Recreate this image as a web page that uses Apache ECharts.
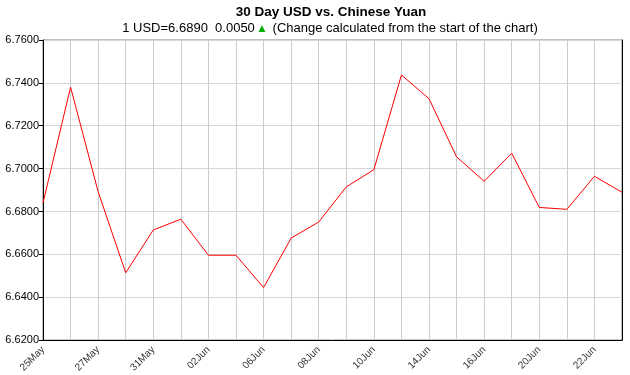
<!DOCTYPE html>
<html><head><meta charset="utf-8">
<script src="https://cdn.jsdelivr.net/npm/echarts@6/dist/echarts.min.js"></script>
<style>html,body{margin:0;padding:0;background:#fff}#c{width:630px;height:375px}</style>
</head><body><div id="c"></div>
<script>
const categories = ["25May","26May","27May","30May","31May","01Jun","02Jun","03Jun","06Jun","07Jun","08Jun","09Jun","10Jun","13Jun","14Jun","15Jun","16Jun","17Jun","20Jun","21Jun","22Jun","23Jun"];
const rates = [6.6840,6.7380,6.6892,6.6514,6.6714,6.6764,6.6596,6.6596,6.6445,6.6676,6.6751,6.6915,6.6995,6.7437,6.7326,6.7055,6.6941,6.7072,6.6819,6.6810,6.6964,6.6890];
const yMin = 6.62, yMax = 6.76, yStep = 0.02;
const titleText = "30 Day USD vs. Chinese Yuan";
const subParts = ["1 USD=6.6890  0.0050 ", "▲", "  (Change calculated from the start of the chart)"];

const chart = echarts.init(document.getElementById('c'), null, {renderer:'canvas'});
chart.setOption({
  animation:false,
  backgroundColor:'#fff',
  title:[{
    text:titleText, left:326, top:0, textAlign:'center',
    textStyle:{fontFamily:'Liberation Sans, Arial, sans-serif', fontSize:13.5, fontWeight:'bold', color:'#000'}
  },{
    text:'{a|'+subParts[0]+'}{g|'+subParts[1]+'}{a|'+subParts[2]+'}', left:325, top:17, textAlign:'center',
    textStyle:{fontWeight:'normal', rich:{
      a:{fontFamily:'Liberation Sans, Arial, sans-serif', fontSize:13, fontWeight:'normal', color:'#000'},
      g:{fontFamily:'DejaVu Sans, sans-serif', fontSize:9, fontWeight:'normal', color:'#00b000'}
    }}
  }],
  grid:{left:43, right:8, top:40, bottom:32, show:true, borderColor:'#808080', borderWidth:1},
  xAxis:{
    type:'category', data:categories, boundaryGap:false,
    axisLine:{lineStyle:{color:'#000', width:1}},
    axisTick:{show:false},
    axisLabel:{interval:1, rotate:45, fontSize:10, color:'#333', fontFamily:'Liberation Sans, Arial, sans-serif', margin:8},
    splitLine:{show:true, interval:0, lineStyle:{color:'#cccccc', width:1}}
  },
  yAxis:[{
    type:'value', min:yMin, max:yMax, interval:yStep, position:'left',
    axisLine:{show:true, lineStyle:{color:'#000'}},
    axisTick:{show:true, length:4, lineStyle:{color:'#000'}},
    axisLabel:{formatter:v=>v.toFixed(4), fontSize:11, color:'#000', fontFamily:'Liberation Sans, Arial, sans-serif', margin:4},
    splitLine:{show:true, lineStyle:{color:'#d6d6d6', width:1}}
  },{
    type:'value', min:yMin, max:yMax, interval:yStep, position:'right',
    axisLine:{show:true, lineStyle:{color:'#000'}},
    axisTick:{show:false}, axisLabel:{show:false}, splitLine:{show:false}
  }],
  series:[{
    type:'line', data:rates, showSymbol:false, symbol:'none',
    lineStyle:{color:'#ff0000', width:1}
  }]
});
</script></body></html>
